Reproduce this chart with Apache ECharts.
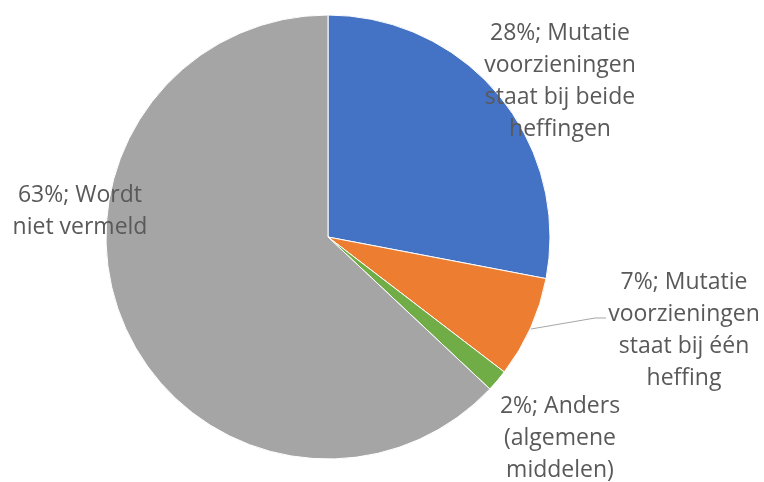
<!DOCTYPE html>
<html>
<head>
<meta charset="utf-8">
<script src="https://cdn.jsdelivr.net/npm/echarts@6/dist/echarts.min.js"></script>
<style>
  html, body { margin: 0; padding: 0; background: #fff; }
  #chart { width: 764px; height: 482px; }
</style>
</head>
<body>
<div id="chart"></div>
<script>
// slices, clockwise from 12 o'clock
const categories = [
  'Mutatie\nvoorzieningen\nstaat bij beide\nheffingen',
  'Mutatie\nvoorzieningen\nstaat bij één\nheffing',
  'Anders\n(algemene\nmiddelen)',
  'Wordt\nniet vermeld',
]
const values = [28.0, 7.4, 1.6, 63.0]
const colors = ['#4472C4', '#ED7D31', '#70AD47', '#A5A5A5']

// label centres, in pixels
const labelPos = [
  [560, 81],
  [684, 330],
  [560, 438],
  [80, 211],
]

const chart = echarts.init(document.getElementById('chart'))

chart.setOption({
  animation: false,
  series: [
    {
      type: 'pie',
      center: [328, 237],
      radius: 222,
      startAngle: 90,
      clockwise: true,
      itemStyle: { borderColor: '#fff', borderWidth: 1 },
      label: {
        show: true,
        position: 'outside',
        color: '#595959',
        fontFamily: 'Open Sans',
        fontSize: 23,
        lineHeight: 32,
        align: 'center',
        overflow: 'none',
        edgeDistance: 0,
        formatter: (p) => Math.round(p.percent) + '%; ' + p.name,
      },
      labelLine: {
        show: false,
        lineStyle: { color: '#A6A6A6', width: 1 },
      },
      labelLayout: (params) => {
        const pos = labelPos[params.dataIndex]
        const out = {
          x: pos[0],
          y: pos[1],
          align: 'center',
          verticalAlign: 'middle',
        }
        if (params.dataIndex === 1) {
          out.labelLinePoints = [[531, 329], [595, 318], [606, 318]]
        }
        return out
      },
      data: categories.map((name, i) => ({
        name: name,
        value: values[i],
        itemStyle: { color: colors[i] },
        labelLine: { show: i === 1 },
      })),
    },
  ],
})
</script>
</body>
</html>
